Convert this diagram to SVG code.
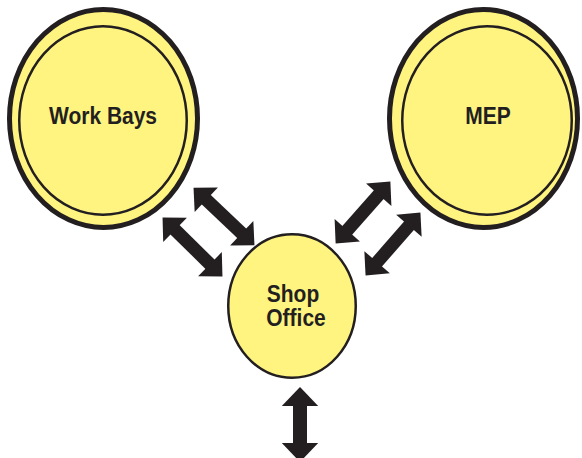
<svg xmlns="http://www.w3.org/2000/svg" width="582" height="458" viewBox="0 0 582 458">
  <style>
    .outer { fill: #fff480; stroke: #231f20; stroke-width: 5; }
    .inner { fill: #fff480; stroke: #231f20; stroke-width: 2.5; }
    .label { font-family: "Liberation Sans", Arial, sans-serif; font-weight: bold; font-size: 21px; fill: #231f20; text-anchor: middle; }
    .conn { stroke: #231f20; fill: none; marker-start: url(#head); marker-end: url(#head); }
  </style>
  <defs>
    <marker id="head" viewBox="-1 -1.5 2.2 3" markerWidth="2.2" markerHeight="3" refX="0" refY="0" orient="auto-start-reverse">
      <path d="M0.6,0 L-0.75,-1.3 L-0.75,1.3 Z" fill="#231f20"/>
    </marker>
  </defs>
  <rect width="582" height="458" fill="#ffffff"/>
  <g id="connectors">
    <line class="conn" stroke-width="13" x1="199.2" y1="193" x2="248.8" y2="240"/>
    <line class="conn" stroke-width="13" x1="168.1" y1="223" x2="216.9" y2="271"/>
    <line class="conn" stroke-width="13" x1="385.2" y1="187.4" x2="340.8" y2="237.6"/>
    <line class="conn" stroke-width="13" x1="415.3" y1="218.4" x2="370.7" y2="269.6"/>
    <line class="conn" stroke-width="14" x1="300" y1="395.4" x2="300" y2="453.6"/>
  </g>
  <g id="work-bays">
    <ellipse class="outer" cx="103.5" cy="118.5" rx="94" ry="109"/>
    <ellipse class="inner" cx="103" cy="120.5" rx="83.75" ry="94.25"/>
    <text class="label" transform="translate(103,124) scale(1,1.13)">Work Bays</text>
  </g>
  <g id="mep">
    <ellipse class="outer" cx="483.5" cy="118.5" rx="94" ry="109"/>
    <ellipse class="inner" cx="487" cy="120.5" rx="84.75" ry="94.25"/>
    <text class="label" transform="translate(488,124) scale(1,1.13)">MEP</text>
  </g>
  <g id="shop-office">
    <ellipse class="inner" cx="292" cy="306" rx="63.75" ry="71.75"/>
    <text class="label" transform="translate(293,302) scale(1,1.13)">Shop</text>
    <text class="label" transform="translate(296,326) scale(1,1.13)">Office</text>
  </g>
</svg>
